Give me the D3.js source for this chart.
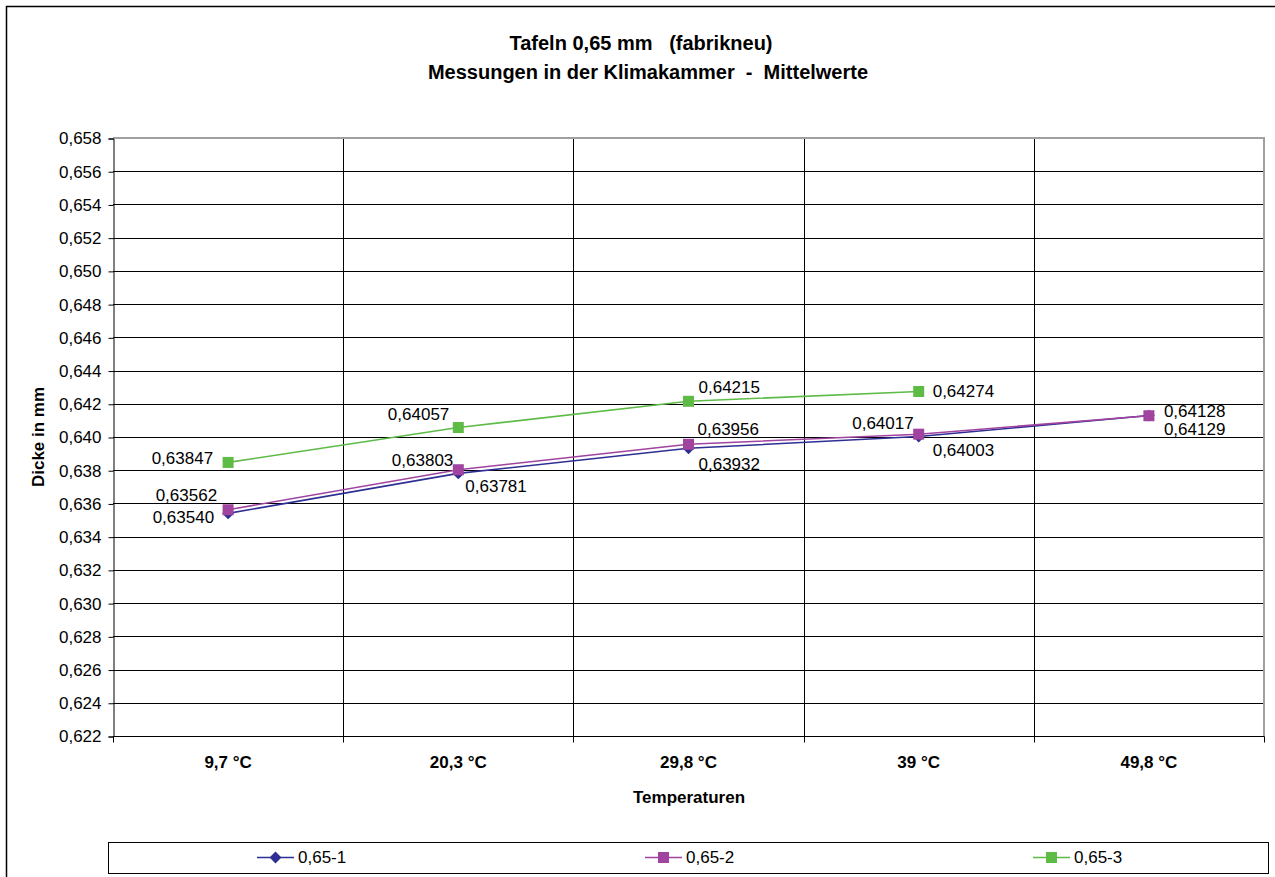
<!DOCTYPE html>
<html>
<head>
<meta charset="utf-8">
<script src="https://cdn.jsdelivr.net/npm/d3@7"></script>
<style>
  html, body { margin: 0; padding: 0; background: #fff; }
  svg { display: block; font-family: "Liberation Sans", Arial, sans-serif; }
</style>
</head>
<body>
<svg id="chart" width="1275" height="877"></svg>
<script>
// Temperature steps (categories)
const categories = ["9,7 °C", "20,3 °C", "29,8 °C", "39 °C", "49,8 °C"];

// Mean thickness per series (mm)
const series1 = [0.63540, 0.63781, 0.63932, 0.64003, 0.64129];
const series2 = [0.63562, 0.63803, 0.63956, 0.64017, 0.64128];
const series3 = [0.63847, 0.64057, 0.64215, 0.64274, null];

const seriesNames = ["0,65-1", "0,65-2", "0,65-3"];

// Y axis ticks
const yTicks = [0.622, 0.624, 0.626, 0.628, 0.630, 0.632, 0.634, 0.636, 0.638, 0.640,
                0.642, 0.644, 0.646, 0.648, 0.650, 0.652, 0.654, 0.656, 0.658];

const colors = ["#2E2E94", "#A0449F", "#5DBB46"];
const symbols = ["diamond", "square", "square"];

// Where each value label sits relative to its point: [dx, dy, anchor]
const labelPlacement = [
  [[-14, 4, "end"], [7, 13, "start"], [10, 16, "start"], [14, 13.5, "start"], [15, 13.5, "start"]],
  [[-11, -15, "end"], [-5, -10, "end"], [9, -15, "start"], [-5, -11, "end"], [15, -4.5, "start"]],
  [[-15, -4, "end"], [-9, -13.5, "end"], [10, -14, "start"], [14, 0, "start"], null]
];

const svg = d3.select("#chart");

// Outer chart frame
svg.append("rect")
  .attr("x", 6.5).attr("y", 6.5)
  .attr("width", 1300).attr("height", 900)
  .attr("fill", "#fff").attr("stroke", "#000").attr("stroke-width", 1.5);

const plot = { left: 113, right: 1264, top: 138, bottom: 736 };

const x = d3.scaleBand().domain(categories).range([plot.left, plot.right]).padding(0);
const y = d3.scaleLinear().domain([0.622, 0.658]).range([plot.bottom, plot.top]);

const fmtTick = v => d3.format(".3f")(v).replace(".", ",");
const fmtVal = v => d3.format(".5f")(v).replace(".", ",");

// Horizontal gridlines
svg.append("g")
  .selectAll("line")
  .data(yTicks)
  .join("line")
  .attr("x1", plot.left).attr("x2", plot.right)
  .attr("y1", d => Math.round(y(d)) + 0.5).attr("y2", d => Math.round(y(d)) + 0.5)
  .attr("stroke", "#000").attr("stroke-width", 1);

// Vertical gridlines at category boundaries
const bounds = categories.map(c => x(c)).concat([plot.right]);
svg.append("g")
  .selectAll("line")
  .data(bounds.slice(1, -1))
  .join("line")
  .attr("x1", d => Math.round(d) + 0.5).attr("x2", d => Math.round(d) + 0.5)
  .attr("y1", plot.top).attr("y2", plot.bottom)
  .attr("stroke", "#000").attr("stroke-width", 1);

// Plot area border (top and right in gray)
svg.append("path")
  .attr("d", `M${plot.left},${plot.top} H${plot.right} V${plot.bottom}`)
  .attr("fill", "none").attr("stroke", "#a0a0a0").attr("stroke-width", 2);

// Y axis
const yAxis = d3.axisLeft(y).tickValues(yTicks).tickFormat(fmtTick).tickSize(5).tickPadding(7);
const gy = svg.append("g").attr("transform", `translate(${plot.left + 0.5},0.5)`).call(yAxis);
gy.select(".domain").attr("stroke", "#000");
gy.selectAll(".tick line").attr("stroke", "#000");
gy.selectAll(".tick text").attr("font-size", 17).attr("fill", "#000")
  .attr("font-family", "'Liberation Sans', Arial, sans-serif");

// X axis line with ticks at category boundaries
const gx = svg.append("g").attr("transform", `translate(0.5,${plot.bottom + 0.5})`);
gx.append("line").attr("x1", plot.left).attr("x2", plot.right).attr("stroke", "#000");
gx.selectAll("line.tk")
  .data(bounds)
  .join("line")
  .attr("class", "tk")
  .attr("x1", d => Math.round(d)).attr("x2", d => Math.round(d))
  .attr("y1", 0).attr("y2", 6)
  .attr("stroke", "#000");

// Category labels
svg.append("g")
  .selectAll("text")
  .data(categories)
  .join("text")
  .attr("x", d => x(d) + x.bandwidth() / 2)
  .attr("y", 768)
  .attr("text-anchor", "middle")
  .attr("font-size", 17).attr("font-weight", "bold")
  .text(d => d);

// Axis titles
svg.append("text")
  .attr("x", 689).attr("y", 803)
  .attr("text-anchor", "middle").attr("font-size", 17).attr("font-weight", "bold")
  .text("Temperaturen");

svg.append("text")
  .attr("transform", `translate(44,${(plot.top + plot.bottom) / 2}) rotate(-90)`)
  .attr("text-anchor", "middle").attr("font-size", 17).attr("font-weight", "bold")
  .text("Dicke in mm");

// Title
svg.append("text")
  .attr("x", 641).attr("y", 50)
  .attr("text-anchor", "middle").attr("font-size", 20).attr("font-weight", "bold")
  .style("white-space", "pre")
  .text("Tafeln 0,65 mm   (fabrikneu)");
svg.append("text")
  .attr("x", 648).attr("y", 79)
  .attr("text-anchor", "middle").attr("font-size", 20).attr("font-weight", "bold")
  .style("white-space", "pre")
  .text("Messungen in der Klimakammer  -  Mittelwerte");

// Series lines, markers and value labels
const allSeries = [series1, series2, series3];
const cx = i => x(categories[i]) + x.bandwidth() / 2;

const line = d3.line()
  .defined(d => d != null)
  .x((d, i) => cx(i))
  .y(d => y(d));

function drawMarker(g, type, px, py, color) {
  if (type === "diamond") {
    g.append("path")
      .attr("d", d3.symbol(d3.symbolDiamond2 || d3.symbolDiamond, 90)())
      .attr("transform", `translate(${px},${py})`)
      .attr("fill", color);
  } else {
    g.append("rect")
      .attr("x", px - 5.5).attr("y", py - 5.5)
      .attr("width", 11).attr("height", 11)
      .attr("fill", color);
  }
}

allSeries.forEach((vals, s) => {
  const g = svg.append("g");
  g.append("path")
    .datum(vals)
    .attr("d", line)
    .attr("fill", "none")
    .attr("stroke", colors[s]).attr("stroke-width", 1.6);
  vals.forEach((v, i) => {
    if (v == null) return;
    drawMarker(g, symbols[s], cx(i), y(v), colors[s]);
  });
});

// Value labels on top of everything
allSeries.forEach((vals, s) => {
  vals.forEach((v, i) => {
    if (v == null) return;
    const [dx, dy, anchor] = labelPlacement[s][i];
    svg.append("text")
      .attr("x", cx(i) + dx).attr("y", y(v) + dy)
      .attr("dy", "0.35em")
      .attr("text-anchor", anchor)
      .attr("font-size", 17)
      .text(fmtVal(v));
  });
});

// Legend
const legend = { x: 108, y: 842, w: 1160, h: 31 };
svg.append("rect")
  .attr("x", legend.x + 0.5).attr("y", legend.y + 0.5)
  .attr("width", legend.w).attr("height", legend.h)
  .attr("fill", "#fff").attr("stroke", "#000").attr("stroke-width", 1);

const legendStarts = [257, 645, 1033];
seriesNames.forEach((name, s) => {
  const g = svg.append("g");
  const lx = legendStarts[s];
  const ly = legend.y + legend.h / 2;
  g.append("line")
    .attr("x1", lx).attr("x2", lx + 37)
    .attr("y1", ly).attr("y2", ly)
    .attr("stroke", colors[s]).attr("stroke-width", 1.6);
  drawMarker(g, symbols[s], lx + 18.5, ly, colors[s]);
  g.append("text")
    .attr("x", lx + 41).attr("y", ly).attr("dy", "0.35em")
    .attr("font-size", 17)
    .text(name);
});
</script>
</body>
</html>
